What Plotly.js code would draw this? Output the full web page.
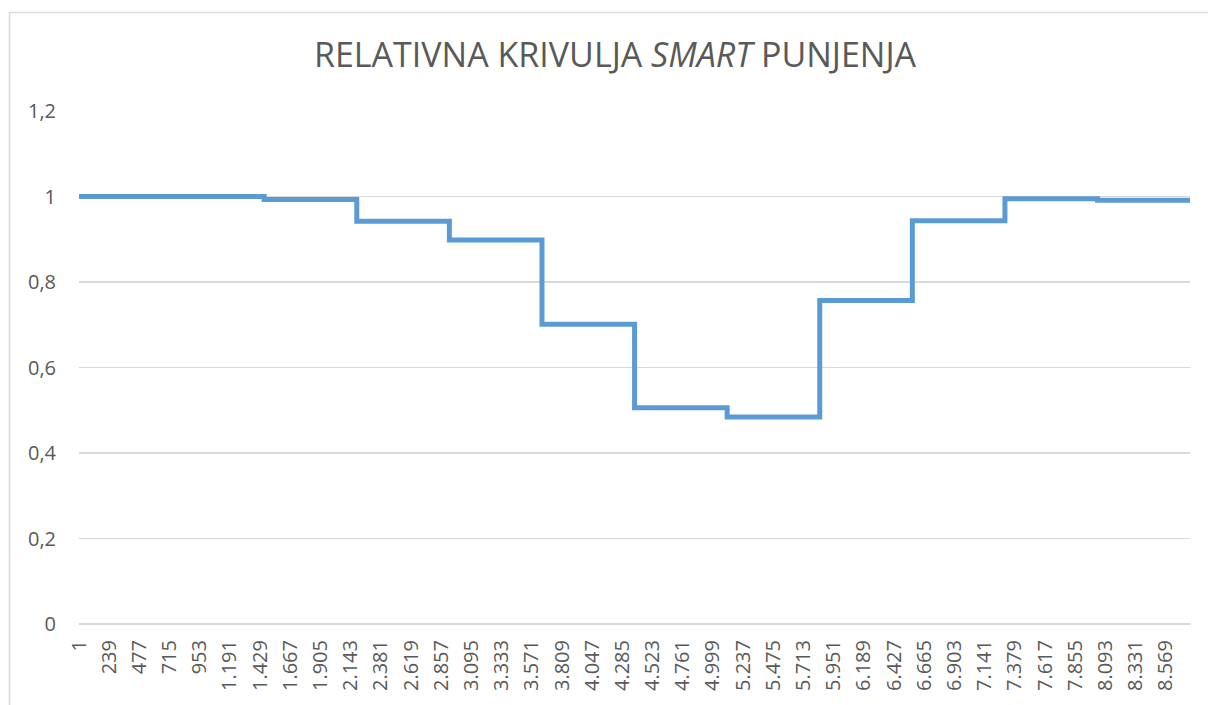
<!DOCTYPE html>
<html>
<head>
<meta charset="utf-8">
<script src="https://cdn.plot.ly/plotly-3.0.1.min.js"></script>
<style>
  html, body { margin: 0; padding: 0; background: #ffffff; }
  #chart { width: 1208px; height: 705px; }
</style>
</head>
<body>
<div id="chart"></div>
<script>
// Hour at which each monthly level starts, plus the last hour of the year
const stepStartHours = [1, 731, 1461, 2191, 2921, 3651, 4381, 5111, 5841, 6571, 7301, 8031];
const lastHour = 8760;
// Relative "smart" charging level per step
const relativeLevels = [1.0, 1.0, 0.993, 0.942, 0.898, 0.701, 0.506, 0.484, 0.757, 0.943, 0.995, 0.991];

// Category tick labels shown on the x axis
const xTickValues = [1, 239, 477, 715, 953, 1191, 1429, 1667, 1905, 2143, 2381, 2619, 2857, 3095, 3333,
  3571, 3809, 4047, 4285, 4523, 4761, 4999, 5237, 5475, 5713, 5951, 6189, 6427, 6665, 6903, 7141,
  7379, 7617, 7855, 8093, 8331, 8569];
const xTickLabels = ["1", "239", "477", "715", "953", "1.191", "1.429", "1.667", "1.905", "2.143", "2.381",
  "2.619", "2.857", "3.095", "3.333", "3.571", "3.809", "4.047", "4.285", "4.523", "4.761", "4.999",
  "5.237", "5.475", "5.713", "5.951", "6.189", "6.427", "6.665", "6.903", "7.141", "7.379", "7.617",
  "7.855", "8.093", "8.331", "8.569"];
const yTickValues = [0, 0.2, 0.4, 0.6, 0.8, 1, 1.2];
const yTickLabels = ["0", "0,2", "0,4", "0,6", "0,8", "1", "1,2"];

const chartTitle = "RELATIVNA KRIVULJA <i>SMART</i> PUNJENJA";

const xs = stepStartHours.concat([lastHour]);
const ys = relativeLevels.concat([relativeLevels[relativeLevels.length - 1]]);

const FONT = "'Open Sans', 'Noto Sans', sans-serif";
const TEXT = "#595959";
const GRID = "#d9d9d9";

const trace = {
  x: xs,
  y: ys,
  type: "scatter",
  mode: "lines",
  line: { shape: "hv", color: "#5b9bd5", width: 5 },
  hoverinfo: "skip"
};

const L = 79, R = 18, T = 111, B = 81, W = 1208, H = 705;
const pw = W - L - R, ph = H - T - B;
const bx = (9.5 - L) / pw;
const by = (H - B - 12.5) / ph;

const layout = {
  width: W,
  height: H,
  margin: { l: L, r: R, t: T, b: B, pad: 0 },
  paper_bgcolor: "#ffffff",
  plot_bgcolor: "#ffffff",
  showlegend: false,
  font: { family: FONT, color: TEXT, size: 20 },
  title: {
    text: chartTitle,
    font: { family: FONT, size: 34, color: TEXT },
    xref: "paper",
    x: 0.4825,
    xanchor: "center",
    yref: "container",
    y: 1 - 55 / H,
    yanchor: "middle"
  },
  xaxis: {
    type: "linear",
    range: [1, lastHour],
    tickmode: "array",
    tickvals: xTickValues,
    ticktext: xTickLabels,
    tickangle: -90,
    tickfont: { family: FONT, size: 20, color: TEXT },
    showgrid: false,
    zeroline: false,
    showline: false,
    ticks: "",
    ticklabelstandoff: 11
  },
  yaxis: {
    range: [0, 1.2],
    tickmode: "array",
    tickvals: yTickValues,
    ticktext: yTickLabels,
    tickfont: { family: FONT, size: 20, color: TEXT },
    showgrid: true,
    gridcolor: GRID,
    gridwidth: 1.5,
    zeroline: true,
    zerolinecolor: GRID,
    zerolinewidth: 1.5,
    showline: false,
    ticks: "",
    ticklabelstandoff: 22
  },
  shapes: [
    {
      type: "path",
      xref: "paper",
      yref: "paper",
      path: "M " + bx + " -0.3 L " + bx + " " + by + " L 1.1 " + by,
      line: { color: GRID, width: 1.5 },
      layer: "below"
    }
  ]
};

Plotly.newPlot("chart", [trace], layout, { displayModeBar: false, staticPlot: true });
</script>
</body>
</html>
